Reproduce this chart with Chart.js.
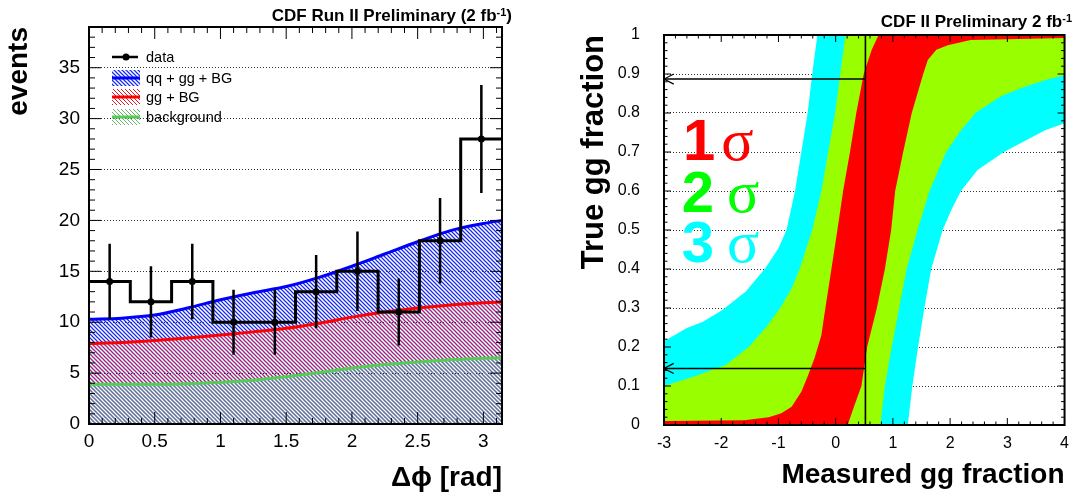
<!DOCTYPE html>
<html>
<head>
<meta charset="utf-8">
<script src="https://cdn.jsdelivr.net/npm/chart.js@4/dist/chart.umd.min.js"></script>
<style>
  html, body { margin: 0; padding: 0; background: #fff; }
  #wrap { position: relative; width: 1078px; height: 496px; }
  canvas { position: absolute; top: 0; }
  #left { left: 0; }
  #right { left: 540px; }
</style>
</head>
<body>
<div id="wrap">
  <canvas id="left" width="540" height="496"></canvas>
  <canvas id="right" width="538" height="496"></canvas>
</div>
<script>
// ---- left panel: delta-phi distribution ----
const binValues = [14, 12, 14, 10, 10, 13, 15, 11, 18, 28];
const binErrors = [3.7, 3.5, 3.7, 3.2, 3.2, 3.6, 3.9, 3.3, 4.2, 5.3];
const curveX = [0, 0.25, 0.5, 0.75, 1, 1.25, 1.5, 1.75, 2, 2.25, 2.5, 2.75, 3, 3.1416];
const qqggbgCurve = [10.3, 10.4, 10.7, 11.4, 12.2, 12.9, 13.5, 14.4, 15.5, 16.7, 17.9, 19.0, 19.7, 20.0];
const ggbgCurve = [7.9, 8.0, 8.2, 8.45, 8.75, 9.05, 9.4, 9.9, 10.5, 11.0, 11.4, 11.7, 11.9, 12.0];
const bgCurve = [3.9, 3.9, 3.9, 3.95, 4.1, 4.3, 4.65, 5.05, 5.5, 5.85, 6.1, 6.3, 6.45, 6.5];
const legendLabels = ['data', 'qq + gg + BG', 'gg + BG', 'background'];

// ---- right panel: confidence belts (measured x, true y), each edge from bottom to top ----
const cyanLeft = [[-3, 0.215], [-2.61, 0.248], [-2.32, 0.265], [-1.98, 0.295], [-1.57, 0.342], [-1.23, 0.402], [-1.0, 0.453], [-0.86, 0.5], [-0.71, 0.6], [-0.6, 0.7], [-0.49, 0.8], [-0.41, 0.9], [-0.32, 1.0]];
const greenLeft = [[-3, 0.1], [-2.49, 0.124], [-1.92, 0.154], [-1.52, 0.2], [-1.23, 0.248], [-0.97, 0.3], [-0.77, 0.35], [-0.63, 0.4], [-0.41, 0.5], [-0.25, 0.6], [-0.13, 0.7], [-0.01, 0.8], [0.08, 0.9], [0.17, 1.0]];
const redLeft = [[-3, 0.01], [-1.6, 0.012], [-1.17, 0.02], [-0.95, 0.03], [-0.77, 0.047], [-0.6, 0.085], [-0.48, 0.128], [-0.37, 0.171], [-0.25, 0.23], [-0.2, 0.28], [-0.09, 0.385], [0.03, 0.5], [0.13, 0.6], [0.25, 0.7], [0.36, 0.8], [0.49, 0.9], [0.55, 0.927], [0.63, 0.962], [0.75, 1.0]];
const redRight = [[0.21, 0], [0.32, 0.047], [0.45, 0.1], [0.55, 0.2], [0.72, 0.3], [0.86, 0.4], [0.97, 0.5], [1.04, 0.6], [1.18, 0.7], [1.33, 0.8], [1.53, 0.9], [1.61, 0.936], [1.76, 0.962], [1.96, 0.974], [2.36, 0.987], [4, 0.992]];
const greenRight = [[0.78, 0], [0.86, 0.1], [0.98, 0.2], [1.11, 0.3], [1.24, 0.4], [1.43, 0.5], [1.64, 0.6], [1.93, 0.7], [2.19, 0.756], [2.45, 0.801], [2.88, 0.842], [3.22, 0.863], [3.68, 0.885], [4, 0.897]];
const cyanRight = [[1.26, 0], [1.34, 0.1], [1.44, 0.2], [1.55, 0.3], [1.67, 0.4], [1.87, 0.5], [2.02, 0.551], [2.19, 0.6], [2.48, 0.654], [2.94, 0.7], [3.66, 0.756], [4, 0.774]];
const measured = 0.52;
const trueLow = 0.145;
const trueHigh = 0.887;
const sigmaLabels = ['1', '2', '3'];

const FONT = '"Liberation Sans", Arial, Helvetica, sans-serif';
Chart.defaults.font.family = FONT;
Chart.defaults.color = '#000';

// diagonal "\" hatch, same phase for every colour so later fills sit on earlier ones
function hatch(color, width) {
  const c = document.createElement('canvas');
  c.width = 4; c.height = 4;
  const g = c.getContext('2d');
  g.strokeStyle = color;
  g.lineWidth = width;
  g.beginPath();
  for (const k of [-4, 0, 4]) { g.moveTo(k - 1, -1); g.lineTo(k + 5, 5); }
  g.stroke();
  return g.createPattern(c, 'repeat');
}

const fmt = v => String(+v.toFixed(2));

// inward ticks on all four sides plus the frame, like ROOT
const boxTicks = {
  id: 'boxTicks',
  afterDatasetsDraw(chart, args, o) {
    const { ctx, chartArea: a, scales: { x, y } } = chart;
    const marks = (scale, minor, major) => {
      const out = [];
      const n = Math.round((scale.max - scale.min) / minor);
      for (let i = 0; i <= n; i++) {
        const v = scale.min + i * minor;
        if (v > scale.max + 1e-9) break;
        const r = v / major;
        out.push([scale.getPixelForValue(v), Math.abs(r - Math.round(r)) < 1e-6 ? o.major : o.minor]);
      }
      return out;
    };
    ctx.save();
    ctx.strokeStyle = '#000';
    ctx.lineWidth = 1;
    ctx.beginPath();
    for (const [px, len] of marks(x, o.xMinor, o.xMajor)) {
      ctx.moveTo(px, a.bottom); ctx.lineTo(px, a.bottom - len);
      ctx.moveTo(px, a.top); ctx.lineTo(px, a.top + len);
    }
    for (const [py, len] of marks(y, o.yMinor, o.yMajor)) {
      ctx.moveTo(a.left, py); ctx.lineTo(a.left + len, py);
      ctx.moveTo(a.right, py); ctx.lineTo(a.right - len, py);
    }
    ctx.stroke();
    ctx.lineWidth = o.frame;
    ctx.strokeRect(a.left, a.top, a.right - a.left, a.bottom - a.top);
    ctx.restore();
  }
};

function drawHeader(ctx, right, base, main, sup, tail, size) {
  ctx.save();
  ctx.fillStyle = '#000';
  ctx.textAlign = 'left';
  ctx.textBaseline = 'alphabetic';
  const small = Math.round(size * 0.62);
  ctx.font = `bold ${size}px ${FONT}`;
  const w1 = ctx.measureText(main).width;
  const w3 = ctx.measureText(tail).width;
  ctx.font = `bold ${small}px ${FONT}`;
  const w2 = ctx.measureText(sup).width;
  const x = right - w1 - w2 - w3;
  ctx.font = `bold ${size}px ${FONT}`;
  ctx.fillText(main, x, base);
  ctx.font = `bold ${small}px ${FONT}`;
  ctx.fillText(sup, x + w1, base - 5);
  ctx.font = `bold ${size}px ${FONT}`;
  ctx.fillText(tail, x + w1 + w2, base);
  ctx.restore();
}

// ---------------- left chart ----------------
const BLUE = '#0000ff', RED = '#ff0000', GREEN = '#55cc55';
const patBlue = hatch('#1a2ee0', 1.25);
const patRed = hatch('#e8102a', 1.0);
const patGreen = hatch('#4a9a4a', 0.8);

const binWidth = Math.PI / binValues.length;
const binCenters = binValues.map((v, i) => (i + 0.5) * binWidth);
const stepData = binValues.map((v, i) => ({ x: i * binWidth, y: v }));
stepData.push({ x: Math.PI, y: binValues[binValues.length - 1] });
const errData = [];
binValues.forEach((v, i) => {
  errData.push({ x: binCenters[i], y: v - binErrors[i] });
  errData.push({ x: binCenters[i], y: v + binErrors[i] });
  errData.push({ x: binCenters[i], y: null });
});
const curve = arr => arr.map((v, i) => ({ x: curveX[i], y: v }));

const leftLegend = {
  id: 'leftLegend',
  afterDraw(chart) {
    const ctx = chart.ctx;
    const rows = [
      { y: 57, color: '#000' },
      { y: 78, color: BLUE, pat: patBlue },
      { y: 97, color: RED, pat: patRed },
      { y: 117, color: GREEN, pat: patGreen }
    ];
    ctx.save();
    rows.forEach((r, i) => {
      if (r.pat) {
        ctx.fillStyle = r.pat;
        ctx.fillRect(112, r.y - 8, 28, 16);
        ctx.strokeStyle = r.color;
        ctx.lineWidth = 3;
        ctx.beginPath(); ctx.moveTo(112, r.y); ctx.lineTo(140, r.y); ctx.stroke();
      } else {
        ctx.strokeStyle = '#000';
        ctx.lineWidth = 2.5;
        ctx.beginPath(); ctx.moveTo(112, r.y); ctx.lineTo(138, r.y); ctx.stroke();
        ctx.fillStyle = '#000';
        ctx.beginPath(); ctx.arc(126, r.y, 3.5, 0, Math.PI * 2); ctx.fill();
      }
      ctx.fillStyle = '#000';
      ctx.font = `14.5px ${FONT}`;
      ctx.textBaseline = 'alphabetic';
      ctx.fillText(legendLabels[i], 146, r.y + 4.5);
    });
    ctx.restore();
    drawHeader(ctx, 512, 20.5, 'CDF Run II Preliminary (2 fb', '-1', ')', 17);
  }
};

new Chart(document.getElementById('left'), {
  type: 'line',
  data: {
    datasets: [
      { label: 'points', data: binCenters.map((c, i) => ({ x: c, y: binValues[i] })), showLine: false,
        pointRadius: 3.5, pointBackgroundColor: '#000', pointBorderColor: '#000', pointBorderWidth: 0, order: 0 },
      { label: 'errors', data: errData, borderColor: '#000', borderWidth: 2.5, pointRadius: 0, spanGaps: false, fill: false, order: 0 },
      { label: legendLabels[0], data: stepData, stepped: true, borderColor: '#000', borderWidth: 3, pointRadius: 0, fill: false, order: 1 },
      { label: legendLabels[1], data: curve(qqggbgCurve), borderColor: BLUE, backgroundColor: patBlue, fill: 'origin',
        borderWidth: 3, pointRadius: 0, cubicInterpolationMode: 'monotone', order: 4 },
      { label: legendLabels[2], data: curve(ggbgCurve), borderColor: RED, backgroundColor: patRed, fill: 'origin',
        borderWidth: 3, pointRadius: 0, cubicInterpolationMode: 'monotone', order: 3 },
      { label: legendLabels[3], data: curve(bgCurve), borderColor: GREEN, backgroundColor: patGreen, fill: 'origin',
        borderWidth: 3, pointRadius: 0, cubicInterpolationMode: 'monotone', order: 2 }
    ]
  },
  options: {
    responsive: false,
    animation: false,
    events: [],
    layout: { padding: { left: 0, right: 38, top: 27, bottom: 0 } },
    plugins: {
      legend: { display: false },
      tooltip: { enabled: false },
      filler: { drawTime: 'beforeDatasetsDraw' },
      boxTicks: { xMinor: 0.1, xMajor: 0.5, yMinor: 1, yMajor: 5, major: 12, minor: 6, frame: 2 }
    },
    scales: {
      x: {
        type: 'linear', min: 0, max: Math.PI,
        afterFit: s => { s.height = 72; },
        ticks: { stepSize: 0.5, includeBounds: false, padding: 6, font: { size: 19 }, maxRotation: 0, autoSkip: false, callback: v => fmt(v) },
        grid: { display: false, drawTicks: false },
        border: { display: false },
        title: { display: true, text: 'Δϕ [rad]', align: 'end', font: { size: 28, weight: 'bold' }, padding: { top: 0, bottom: 1 } }
      },
      y: {
        min: 0, max: 39,
        afterFit: s => { s.width = 89; },
        ticks: { stepSize: 5, includeBounds: false, padding: 9, font: { size: 19 }, callback: v => fmt(v) },
        grid: { drawTicks: false, lineWidth: 1, color: c => (c.tick && c.tick.value === 0) ? 'rgba(0,0,0,0)' : '#333' },
        border: { display: false, dash: [1, 2] },
        title: { display: true, text: 'events', align: 'end', font: { size: 28, weight: 'bold' }, padding: { top: 2, bottom: 0 } }
      }
    }
  },
  plugins: [boxTicks, leftLegend]
});

// ---------------- right chart ----------------
function band(left, right) {
  const pts = [{ x: -3.2, y: -0.05 }, { x: -3.2, y: left[0][1] }];
  left.forEach(p => pts.push({ x: p[0], y: p[1] }));
  const top = left[left.length - 1];
  pts.push({ x: top[0], y: 1.05 }, { x: 4.2, y: 1.05 }, { x: 4.2, y: right[right.length - 1][1] });
  for (let i = right.length - 1; i >= 0; i--) pts.push({ x: right[i][0], y: right[i][1] });
  pts.push({ x: right[0][0], y: -0.05 });
  return pts;
}
const bandStyle = { borderWidth: 0, borderColor: 'rgba(0,0,0,0)', pointRadius: 0, fill: 'shape' };
const lineStyle = { borderColor: '#000', borderWidth: 1.6, pointRadius: 0, fill: false, order: 0 };

const sigmaText = {
  id: 'sigmaText',
  afterDraw(chart) {
    const { ctx, scales: { x, y } } = chart;
    const spots = [
      { c: '#ff0000', dx: -2.67, sx: -2.0, by: 0.679 },
      { c: '#00ff00', dx: -2.69, sx: -1.9, by: 0.546 },
      { c: '#00ffff', dx: -2.69, sx: -1.9, by: 0.418 }
    ];
    ctx.save();
    ctx.textBaseline = 'alphabetic';
    spots.forEach((s, i) => {
      ctx.fillStyle = s.c;
      ctx.font = `bold 58px ${FONT}`;
      ctx.fillText(sigmaLabels[i], x.getPixelForValue(s.dx), y.getPixelForValue(s.by));
      ctx.font = `60px "Liberation Serif", "DejaVu Serif", serif`;
      ctx.fillText('σ', x.getPixelForValue(s.sx), y.getPixelForValue(s.by));
    });
    ctx.restore();
    drawHeader(ctx, 532, 26.5, 'CDF II Preliminary 2 fb', '-1', '', 17);
  }
};

new Chart(document.getElementById('right'), {
  type: 'line',
  data: {
    datasets: [
      Object.assign({ label: 'vertical', data: [{ x: measured, y: 0 }, { x: measured, y: 1 }] }, lineStyle),
      Object.assign({ label: 'high', data: [{ x: -3, y: trueHigh }, { x: measured, y: trueHigh }] }, lineStyle),
      Object.assign({ label: 'low', data: [{ x: -3, y: trueLow }, { x: measured, y: trueLow }] }, lineStyle),
      Object.assign({ label: 'arrow high', data: [{ x: -2.83, y: trueHigh + 0.013 }, { x: -3, y: trueHigh }, { x: -2.83, y: trueHigh - 0.013 }] }, lineStyle, { borderWidth: 1.2 }),
      Object.assign({ label: 'arrow low', data: [{ x: -2.83, y: trueLow + 0.013 }, { x: -3, y: trueLow }, { x: -2.83, y: trueLow - 0.013 }] }, lineStyle, { borderWidth: 1.2 }),
      Object.assign({ label: '1 sigma', data: band(redLeft, redRight), backgroundColor: '#ff0000', order: 1 }, bandStyle),
      Object.assign({ label: '2 sigma', data: band(greenLeft, greenRight), backgroundColor: '#99ff00', order: 2 }, bandStyle),
      Object.assign({ label: '3 sigma', data: band(cyanLeft, cyanRight), backgroundColor: '#00ffff', order: 3 }, bandStyle)
    ]
  },
  options: {
    responsive: false,
    animation: false,
    events: [],
    layout: { padding: { left: 0, right: 8, top: 35, bottom: 0 } },
    plugins: {
      legend: { display: false },
      tooltip: { enabled: false },
      boxTicks: { xMinor: 0.2, xMajor: 1, yMinor: 0.02, yMajor: 0.1, major: 7, minor: 3.5, frame: 2 }
    },
    scales: {
      x: {
        type: 'linear', min: -3, max: 4,
        afterFit: s => { s.height = 71; },
        ticks: { stepSize: 1, includeBounds: false, padding: 9, font: { size: 16 }, maxRotation: 0, autoSkip: false, callback: v => fmt(v) },
        grid: { display: false, drawTicks: false },
        border: { display: false },
        title: { display: true, text: 'Measured gg fraction', align: 'end', font: { size: 28, weight: 'bold' }, padding: { top: 0, bottom: 4 } }
      },
      y: {
        min: 0, max: 1, z: 1,
        afterFit: s => { s.width = 124; },
        ticks: { stepSize: 0.1, includeBounds: false, padding: 24, font: { size: 16 }, callback: v => fmt(v) },
        grid: { drawTicks: false, lineWidth: 1, color: c => (c.tick && (Math.abs(c.tick.value) < 1e-6 || Math.abs(c.tick.value - 1) < 1e-6)) ? 'rgba(0,0,0,0)' : '#333' },
        border: { display: false, dash: [1, 2] },
        title: { display: true, text: 'True gg fraction', align: 'end', font: { size: 31, weight: 'bold' }, padding: { top: 36, bottom: 0 } }
      }
    }
  },
  plugins: [boxTicks, sigmaText]
});
</script>
</body>
</html>
